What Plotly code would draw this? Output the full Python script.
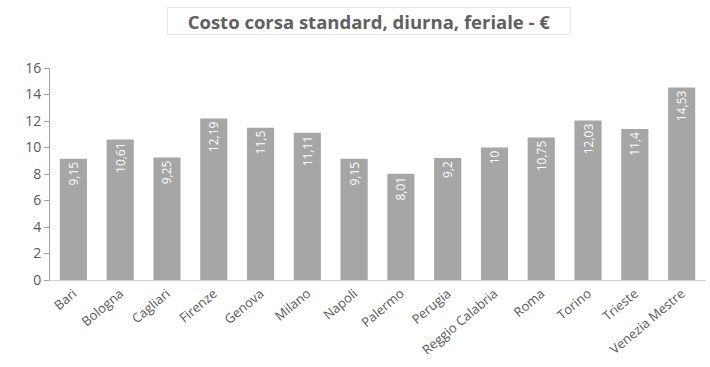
import plotly.graph_objects as go

cities = ["Bari", "Bologna", "Cagliari", "Firenze", "Genova", "Milano", "Napoli",
          "Palermo", "Perugia", "Reggio Calabria", "Roma", "Torino", "Trieste",
          "Venezia Mestre"]
costs = [9.15, 10.61, 9.25, 12.19, 11.5, 11.11, 9.15, 8.01, 9.2, 10, 10.75,
         12.03, 11.4, 14.53]
y_ticks = [0, 2, 4, 6, 8, 10, 12, 14, 16]
title_text = "Costo corsa standard, diurna, feriale - €"

labels = [f"{v:g}".replace(".", ",") for v in costs]

fig = go.Figure(go.Bar(
    x=cities, y=costs, text=labels, textposition="inside",
    insidetextanchor="end", textangle=-90,
    textfont=dict(color="white", size=12, family="Open Sans"),
    marker=dict(color="#a6a6a6", line=dict(width=0)),
))

fig.update_layout(
    width=710, height=367,
    margin=dict(l=50, r=5, t=68, b=87),
    paper_bgcolor="white", plot_bgcolor="white",
    bargap=0.42, showlegend=False,
    font=dict(family="Open Sans", color="#595959"),
    uniformtext=dict(minsize=8, mode="show"),
)
fig.update_yaxes(range=[0, 16], tickvals=y_ticks, showgrid=False,
                 showline=True, linecolor="#a0a0a0", ticks="outside",
                 ticklen=5, tickcolor="#a0a0a0", tickfont=dict(size=14),
                 zeroline=False, automargin=False)
fig.update_xaxes(showline=True, linecolor="#d0d0d0", tickangle=-40,
                 tickfont=dict(size=13), ticks="", automargin=False)

fig.add_annotation(
    text="<b>" + title_text + "</b>", xref="paper", yref="paper",
    x=0.487, y=1.0, yshift=47, showarrow=False, yanchor="middle",
    width=400, height=24, align="center", valign="middle",
    font=dict(size=18.5, color="#606060"),
    bordercolor="#e6e6e6", borderwidth=1, borderpad=1, bgcolor="white",
)

fig.write_html("out.html", config={"displayModeBar": False},
               post_script="document.body.style.margin='0';")
